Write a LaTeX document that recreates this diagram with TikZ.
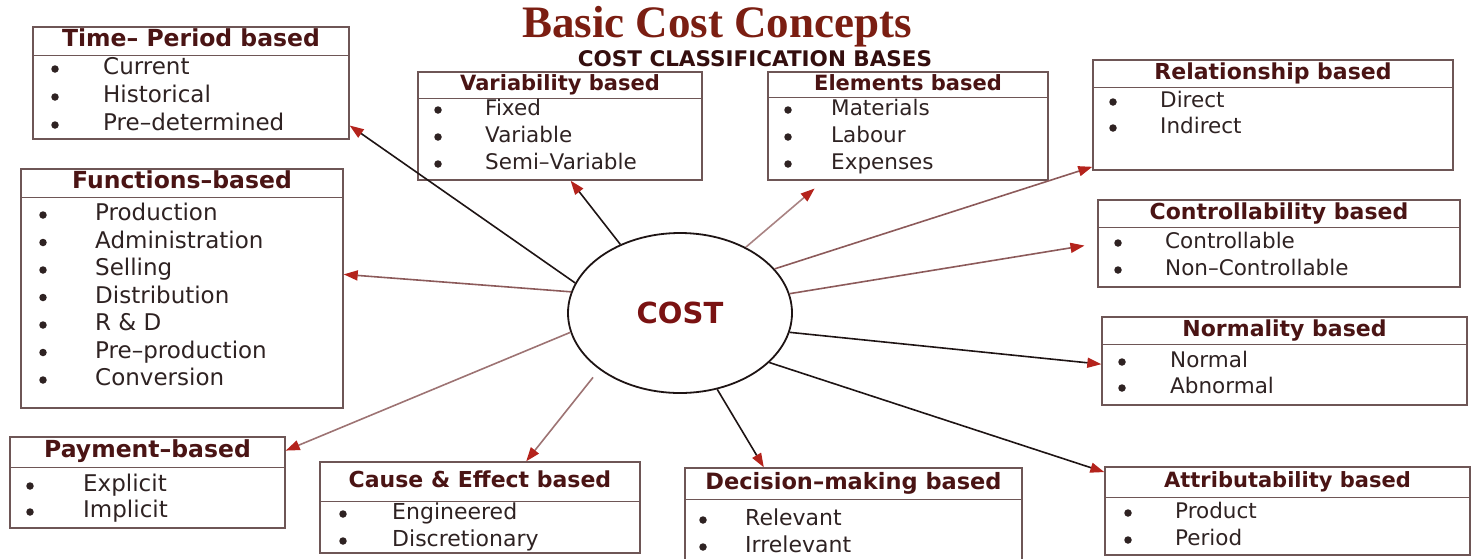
\documentclass[tikz,border=0pt]{standalone}
\usepackage{fontspec}
\setmainfont{DejaVu Sans}
\newfontfamily\titleserif{Liberation Serif}
\usetikzlibrary{arrows.meta,shapes.geometric,positioning}

\definecolor{headred}{HTML}{4A1414}
\definecolor{itemgray}{HTML}{2E2222}
\definecolor{costred}{HTML}{7A1212}
\definecolor{titlered}{HTML}{7B1E12}
\definecolor{boxline}{HTML}{6E5656}
\definecolor{darkarrow}{HTML}{1E1414}
\definecolor{brownarrow}{HTML}{8C5A5A}
\definecolor{tipred}{HTML}{B4231C}

% frame, heading rule and heading of one classification box
% #1 name, #2 #3 centre, #4 width, #5 height, #6 heading height, #7 heading size, #8 heading
\newcommand{\catpanel}[8]{%
  \node[catbox,minimum width=#4pt,minimum height=#5pt] (#1) at (#2,#3) {};
  \draw[boxline,line width=1.4pt] ([yshift=-#6pt]#1.north west) -- ([yshift=-#6pt]#1.north east);
  \node[head=#7] (#1-title) at ([yshift=-#6pt/2]#1.north) {#8};
}

\begin{document}
\begin{tikzpicture}[x=1pt,y=-1pt,
  catbox/.style={draw=boxline,line width=1.4pt,rectangle,inner sep=0pt},
  head/.style={font=\bfseries\fontsize{#1}{#1}\selectfont,text=headred,inner sep=0pt,text height=17pt,text depth=5pt},
  head/.default=22,
  entry/.style={anchor=west,font=\fontsize{#1}{#1}\selectfont,text=itemgray,inner sep=0pt,text height=16pt,text depth=5pt},
  entry/.default=21.5,
  dot/.style={circle,fill=itemgray,inner sep=0pt,minimum size=7.5pt},
  link/.style={line width=1.6pt,-{Triangle[length=14pt,width=10pt,color=tipred]}},
  darklink/.style={link,draw=darkarrow},
  brownlink/.style={link,draw=brownarrow}]
\useasboundingbox (0,0) rectangle (1484,558);
\clip (0,0) rectangle (1484,558);

\node[font=\titleserif\bfseries\fontsize{45}{45}\selectfont,text=titlered,anchor=base] (title) at (717,37) {Basic Cost Concepts};
\node[font=\bfseries\fontsize{21.5}{21.5}\selectfont,text=headred!70!black] (bases) at (755,59) {COST CLASSIFICATION BASES};

% centre
\node[ellipse,draw=darkarrow,line width=1.8pt,fill=white,minimum width=224pt,minimum height=160pt,inner sep=0pt,
  font=\bfseries\fontsize{29}{29}\selectfont,text=costred] (cost) at (680,313) {COST};

% left column
\catpanel{time}{191}{83}{316}{112}{29}{23.5}{Time– Period based}
\foreach \t [count=\i] in {Current,Historical,Pre–determined} {
  \node[dot] (time-dot-\i) at (55,{41+28*\i}) {};
  \node[entry=23] (time-\i) at (103,{41+28*\i}) {\t};
}
\catpanel{functions}{182}{288.5}{322}{239}{29}{23.5}{Functions–based}
\foreach \t [count=\i] in {Production,Administration,Selling,Distribution,R \& D,Pre–production,Conversion} {
  \node[dot] (functions-dot-\i) at (43,{187.5+27.5*\i}) {};
  \node[entry=23] (functions-\i) at (95,{187.5+27.5*\i}) {\t};
}
\catpanel{payment}{147.5}{482.5}{275}{91}{31}{23.5}{Payment–based}
\foreach \t [count=\i] in {Explicit,Implicit} {
  \node[dot] (payment-dot-\i) at (30,{460+26*\i}) {};
  \node[entry=23] (payment-\i) at (83,{460+26*\i}) {\t};
}

% top row
\catpanel{variability}{560}{126}{284}{108}{27}{21}{Variability based}
\foreach \t [count=\i] in {Fixed,Variable,Semi–Variable} {
  \node[dot] (variability-dot-\i) at (438,{83+27*\i}) {};
  \node[entry] (variability-\i) at (485,{83+27*\i}) {\t};
}
\catpanel{elements}{908}{126}{280}{108}{26}{21}{Elements based}
\foreach \t [count=\i] in {Materials,Labour,Expenses} {
  \node[dot] (elements-dot-\i) at (788,{83+27*\i}) {};
  \node[entry] (elements-\i) at (831,{83+27*\i}) {\t};
}

% right column
\catpanel{relationship}{1273}{115}{360}{110}{28}{22}{Relationship based}
\foreach \t [count=\i] in {Direct,Indirect} {
  \node[dot] (relationship-dot-\i) at (1113,{76+26*\i}) {};
  \node[entry] (relationship-\i) at (1160,{76+26*\i}) {\t};
}
\catpanel{controllability}{1279}{243.5}{362}{87}{28}{22}{Controllability based}
\foreach \t [count=\i] in {Controllable,Non–Controllable} {
  \node[dot] (controllability-dot-\i) at (1118,{216+27*\i}) {};
  \node[entry] (controllability-\i) at (1165,{216+27*\i}) {\t};
}
\catpanel{normality}{1284.5}{361}{365}{88}{28}{22}{Normality based}
\foreach \t [count=\i] in {Normal,Abnormal} {
  \node[dot] (normality-dot-\i) at (1122,{336+26*\i}) {};
  \node[entry] (normality-\i) at (1170,{336+26*\i}) {\t};
}
\catpanel{attributability}{1287.5}{511}{365}{88}{31}{21}{Attributability based}
\foreach \t [count=\i] in {Product,Period} {
  \node[dot] (attributability-dot-\i) at (1128,{486+27*\i}) {};
  \node[entry] (attributability-\i) at (1175,{486+27*\i}) {\t};
}

% bottom row
\catpanel{decision}{853.5}{517}{337}{98}{32}{22.5}{Decision–making based}
\foreach \t [count=\i] in {Relevant,Irrelevant} {
  \node[dot] (decision-dot-\i) at (703,{493+27*\i}) {};
  \node[entry=22] (decision-\i) at (745,{493+27*\i}) {\t};
}
\catpanel{cause}{480}{507.5}{320}{91}{40}{22}{Cause \& Effect based}
\foreach \t [count=\i] in {Engineered,Discretionary} {
  \node[dot] (cause-dot-\i) at (343,{487+27*\i}) {};
  \node[entry=22] (cause-\i) at (392,{487+27*\i}) {\t};
}

% connectors from the centre
\draw[darklink] (cost.164) -- (time.-15.7);
\draw[darklink] (cost.131) -- (variability.-79.5);
\draw[brownlink] (cost.169) -- (functions.5.6);
\draw[brownlink,draw=brownarrow!75,shorten >=12pt] (cost.45) -- (elements.213.7);
\draw[brownlink] (cost.25) -- (relationship.196.4);
\draw[brownlink,shorten >=13pt] (cost.10) -- (controllability.180.5);
\draw[darklink] (cost.-10) -- (normality.181.2);
\draw[darklink] (cost.-29) -- (attributability.168.4);
\draw[darklink] (cost.-64) -- (decision.151.7);
\draw[brownlink,draw=brownarrow!85,shorten <=10pt] (cost.215) -- (cause.45.1);
\draw[brownlink,draw=brownarrow!85] (cost.190) -- (payment.13.8);
\end{tikzpicture}
\end{document}
